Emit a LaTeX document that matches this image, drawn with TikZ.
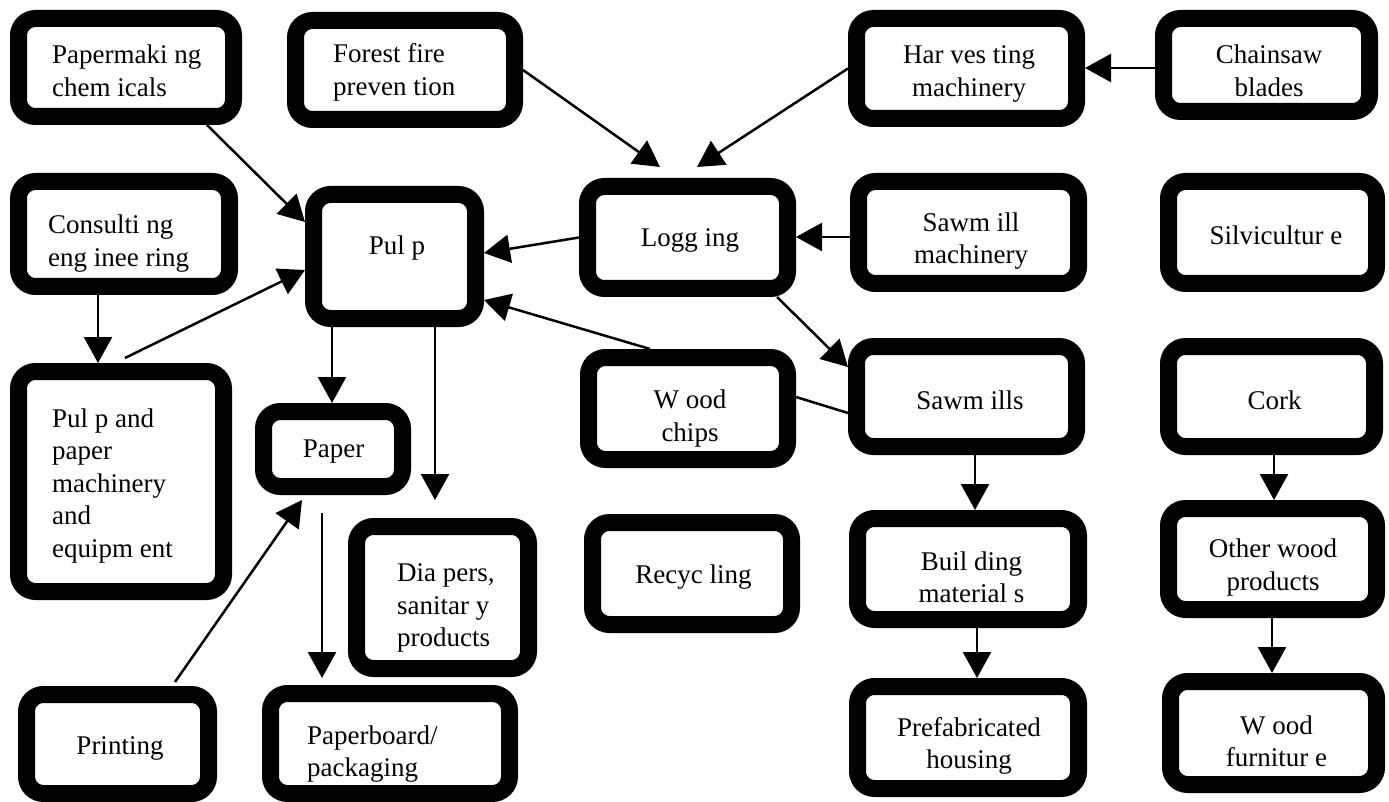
\documentclass[tikz,border=0pt]{standalone}
\usepackage{fontspec}
\setmainfont{Liberation Serif}
\usetikzlibrary{arrows.meta,calc}
\tikzset{
  box/.style={draw, line width=17pt, rounded corners=17pt, outer sep=8.5pt, inner sep=0pt},
  txt/.style={inner sep=0pt, font=\fontsize{27}{32.5}\selectfont, align=center},
  ltxt/.style={txt, align=left, anchor=west},
  arr/.style={line width=2.5pt, -{Triangle[length=26pt,width=28pt]}},
  lin/.style={line width=2.5pt}
}
\begin{document}
\begin{tikzpicture}[x=1pt,y=-1pt]
\useasboundingbox (0,0) rectangle (1389,802);
% boxes
\node[box, minimum width=215pt, minimum height=98pt] (chem) at (126,67.5) {};
\node[box, minimum width=219pt, minimum height=99pt] (fire) at (405,70) {};
\node[box, minimum width=220pt, minimum height=100pt] (harv) at (966.5,68.5) {};
\node[box, minimum width=206pt, minimum height=93pt] (chain) at (1266.5,65) {};
\node[box, minimum width=211pt, minimum height=105pt] (consult) at (124,234) {};
\node[box, minimum width=162pt, minimum height=124pt] (pulp) at (394.5,256.5) {};
\node[box, minimum width=200pt, minimum height=102pt] (log) at (687.5,237.5) {};
\node[box, minimum width=220pt, minimum height=102pt] (smach) at (968.5,232.5) {};
\node[box, minimum width=208pt, minimum height=102pt] (silv) at (1272.5,232.5) {};
\node[box, minimum width=205pt, minimum height=220pt] (ppm) at (121,481.5) {};
\node[box, minimum width=139pt, minimum height=75pt] (paper) at (333,449) {};
\node[box, minimum width=199pt, minimum height=102pt] (chips) at (688,408.5) {};
\node[box, minimum width=220pt, minimum height=100pt] (sawm) at (966.5,396.5) {};
\node[box, minimum width=206pt, minimum height=100pt] (cork) at (1271.5,396.5) {};
\node[box, minimum width=172pt, minimum height=142pt] (diap) at (442.5,597.5) {};
\node[box, minimum width=199pt, minimum height=102pt] (recyc) at (692,573.5) {};
\node[box, minimum width=221pt, minimum height=101pt] (build) at (968,569) {};
\node[box, minimum width=208pt, minimum height=101pt] (other) at (1272.5,559) {};
\node[box, minimum width=182pt, minimum height=99pt] (print) at (117.5,744) {};
\node[box, minimum width=239pt, minimum height=100pt] (board) at (390,743.5) {};
\node[box, minimum width=221pt, minimum height=102pt] (prefab) at (968,737.5) {};
\node[box, minimum width=206pt, minimum height=103pt] (furn) at (1273.5,733) {};
% texts
\node[ltxt] (tchem) at (52,71) {Papermaki ng\\chem icals};
\node[ltxt] (tfire) at (333,72.5) {Forest fire\\preven tion};
\node[txt] (tharv) at (969,74) {Har ves ting\\machinery};
\node[txt] (tchain) at (1269,71) {Chainsaw\\blades};
\node[ltxt] (tconsult) at (48,243.5) {Consulti ng\\eng inee ring};
\node[txt] (tpulp) at (397,248) {Pul p};
\node[txt] (tlog) at (690,240) {Logg ing};
\node[txt] (tsmach) at (971,241) {Sawm ill\\machinery};
\node[txt] (tsilv) at (1276,235) {Silvicultur e};
\node[ltxt] (tppm) at (52,486) {Pul p and\\paper\\machinery\\and\\equipm ent};
\node[txt] (tpaper) at (333.5,452) {Paper};
\node[txt] (tchips) at (690,418.5) {W ood\\chips};
\node[txt] (tsawm) at (970,400) {Sawm ills};
\node[txt] (tcork) at (1274.5,400) {Cork};
\node[ltxt] (tdiap) at (397,608) {Dia pers,\\sanitar y\\products};
\node[txt] (trecyc) at (693.5,577) {Recyc ling};
\node[txt] (tbuild) at (971.5,577.5) {Buil ding\\material s};
\node[txt] (tother) at (1273,567.5) {Other wood\\products};
\node[txt] (tprint) at (120,748) {Printing};
\node[ltxt] (tboard) at (307,754) {Paperboard/\\packaging};
\node[txt] (tprefab) at (969,746) {Prefabricated\\housing};
\node[txt] (tfurn) at (1276.5,741.5) {W ood\\furnitur e};
% connectors
\draw[arr] (chem.south -| 207,0) -- (pulp.west |- 0,222);
\draw[arr] ($(ppm.north -| 125,0)+(0,-5)$) -- (pulp.west |- 0,270);
\draw[arr] (log.west) -- (pulp.east |- 0,253);
\draw[arr] (chips.north -| 650,0) -- (pulp.east |- 0,300);
\draw[arr] (fire.east) -- ($(log.north)+(-27.5,-11)$);
\draw[arr] (harv.west) -- ($(log.north)+(9.5,-11)$);
\draw[arr] (chain.west |- 0,68) -- (harv.east |- 0,68);
\draw[arr] (smach.west |- 0,237) -- (log.east |- 0,237);
\draw[arr] (log.south -| 777,0) -- (sawm.west |- 0,367);
\draw[lin] (chips.east |- 0,397) -- (sawm.west |- 0,413);
\draw[arr] (consult.south -| 98,0) -- (ppm.north -| 98,0);
\draw[arr] (pulp.south -| 332,0) -- (paper.north -| 332,0);
\draw[arr] (pulp.south -| 435,0) -- ($(diap.north -| 435,0)+(0,-18)$);
\draw[arr] ($(paper.south -| 322,0)+(0,18)$) -- ($(board.north -| 322,0)+(0,-7)$);
\draw[arr] ($(print.north -| 175,0)+(0,-4)$) -- ($(paper.south west)+(47,5)$);
\draw[arr] (sawm.south -| 975,0) -- (build.north -| 975,0);
\draw[arr] (build.south -| 977,0) -- (prefab.north -| 977,0);
\draw[arr] (cork.south -| 1274,0) -- (other.north -| 1274,0);
\draw[arr] (other.south -| 1272,0) -- (furn.north -| 1272,0);
\end{tikzpicture}
\end{document}
